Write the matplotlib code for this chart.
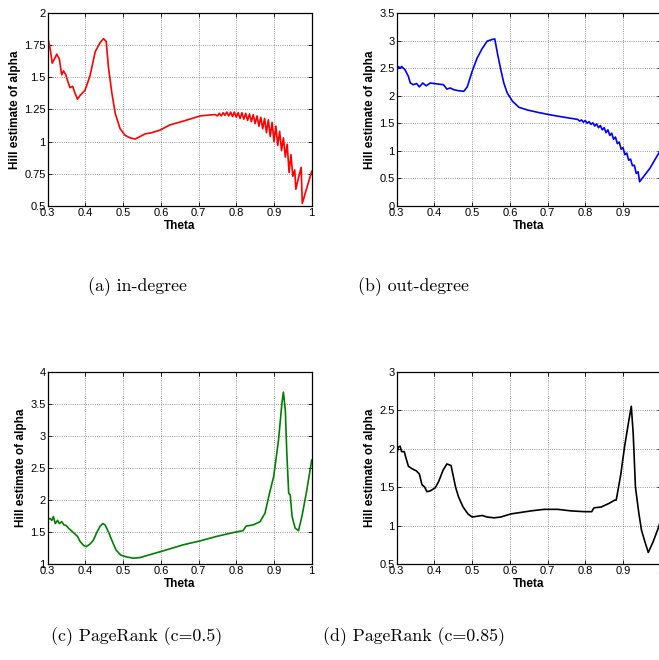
import matplotlib
matplotlib.use('Agg')
import matplotlib.pyplot as plt

# Hill estimate vs Theta
theta_in = [0.300, 0.306, 0.312, 0.319, 0.324, 0.331, 0.337, 0.342, 0.348, 0.353,
            0.359, 0.366, 0.372, 0.379, 0.386, 0.399, 0.412, 0.426, 0.439, 0.448,
            0.455, 0.461, 0.470, 0.479, 0.492, 0.505, 0.518, 0.532, 0.545, 0.558,
            0.576, 0.598, 0.624, 0.660, 0.704, 0.740,
            0.745, 0.750, 0.755, 0.760, 0.765, 0.770, 0.775, 0.780, 0.785, 0.790,
            0.795, 0.800, 0.805, 0.810, 0.815, 0.820, 0.825, 0.830, 0.835, 0.840,
            0.845, 0.850, 0.855, 0.860, 0.865, 0.870, 0.875, 0.880, 0.885, 0.890,
            0.895, 0.900, 0.905, 0.910, 0.915, 0.920, 0.925, 0.930, 0.935, 0.940,
            0.945, 0.950, 0.955, 0.958, 0.965, 0.972, 0.975, 1.000]
alpha_in = [1.81, 1.73, 1.61, 1.65, 1.68, 1.64, 1.52, 1.55, 1.52, 1.47,
            1.42, 1.43, 1.38, 1.33, 1.36, 1.40, 1.51, 1.70, 1.77, 1.80,
            1.78, 1.58, 1.38, 1.22, 1.10, 1.05, 1.03, 1.02, 1.04, 1.06,
            1.07, 1.09, 1.13, 1.16, 1.20, 1.21,
            1.21, 1.20, 1.22, 1.20, 1.225, 1.205, 1.23, 1.20, 1.23, 1.195,
            1.23, 1.19, 1.225, 1.18, 1.225, 1.175, 1.22, 1.165, 1.215, 1.155,
            1.21, 1.14, 1.20, 1.12, 1.19, 1.10, 1.18, 1.07, 1.17, 1.04,
            1.15, 1.00, 1.12, 0.97, 1.08, 0.93, 1.03, 0.88, 0.98, 0.76,
            0.90, 0.73, 0.78, 0.63, 0.72, 0.80, 0.52, 0.77]

theta_out = [0.300, 0.304, 0.309, 0.313, 0.322, 0.331, 0.336, 0.344, 0.353, 0.360,
             0.369, 0.378, 0.389, 0.400, 0.411, 0.424, 0.433, 0.442, 0.451, 0.464,
             0.478, 0.487, 0.500, 0.513, 0.527, 0.540, 0.553, 0.560, 0.567, 0.576,
             0.584, 0.593, 0.607, 0.624, 0.647, 0.673, 0.709, 0.744,
             0.780, 0.785, 0.790, 0.795, 0.800, 0.805, 0.810, 0.815, 0.820, 0.825,
             0.830, 0.835, 0.840, 0.845, 0.850, 0.855, 0.860, 0.865, 0.870, 0.875,
             0.880, 0.885, 0.890, 0.895, 0.900, 0.905, 0.910, 0.915, 0.920, 0.925,
             0.930, 0.935, 0.940, 0.944, 0.971, 1.000]
alpha_out = [2.44, 2.53, 2.50, 2.53, 2.47, 2.35, 2.23, 2.20, 2.22, 2.16,
             2.23, 2.18, 2.23, 2.22, 2.21, 2.20, 2.12, 2.14, 2.11, 2.09,
             2.08, 2.16, 2.44, 2.68, 2.86, 2.99, 3.02, 3.03, 2.77, 2.47,
             2.23, 2.05, 1.90, 1.79, 1.74, 1.70, 1.65, 1.61,
             1.57, 1.54, 1.56, 1.52, 1.55, 1.50, 1.53, 1.48, 1.51, 1.45,
             1.49, 1.42, 1.46, 1.38, 1.42, 1.33, 1.38, 1.28, 1.32, 1.21,
             1.25, 1.13, 1.16, 1.03, 1.06, 0.93, 0.96, 0.83, 0.85, 0.73,
             0.74, 0.59, 0.62, 0.44, 0.68, 1.02]

theta_pr5 = [0.300, 0.306, 0.311, 0.315, 0.320, 0.326, 0.331, 0.337, 0.343, 0.349,
             0.355, 0.364, 0.372, 0.379, 0.386, 0.395, 0.402, 0.412, 0.421, 0.430,
             0.439, 0.446, 0.452, 0.461, 0.470, 0.481, 0.493, 0.509, 0.527, 0.545,
             0.580, 0.615, 0.660, 0.704, 0.748, 0.792, 0.818, 0.826, 0.845, 0.863,
             0.876, 0.888, 0.899, 0.912, 0.921, 0.925, 0.930, 0.934, 0.939, 0.943,
             0.948, 0.956, 0.965, 0.974, 0.987, 1.000]
alpha_pr5 = [1.69, 1.71, 1.68, 1.74, 1.63, 1.68, 1.63, 1.66, 1.61, 1.60,
             1.56, 1.51, 1.47, 1.43, 1.35, 1.29, 1.27, 1.31, 1.37, 1.49,
             1.59, 1.63, 1.61, 1.50, 1.37, 1.22, 1.14, 1.11, 1.09, 1.10,
             1.16, 1.22, 1.30, 1.36, 1.43, 1.49, 1.52, 1.59, 1.61, 1.66,
             1.79, 2.10, 2.36, 2.93, 3.51, 3.68, 3.40, 2.73, 2.10, 2.08,
             1.74, 1.56, 1.52, 1.74, 2.15, 2.62]

theta_pr85 = [0.300, 0.304, 0.309, 0.313, 0.320, 0.325, 0.331, 0.340, 0.352, 0.360,
              0.367, 0.374, 0.380, 0.389, 0.402, 0.411, 0.423, 0.433, 0.444, 0.456,
              0.464, 0.476, 0.489, 0.500, 0.513, 0.527, 0.540, 0.558, 0.576, 0.602,
              0.629, 0.656, 0.691, 0.727, 0.762, 0.798, 0.817, 0.823, 0.842, 0.864,
              0.878, 0.882, 0.894, 0.904, 0.915, 0.922, 0.927, 0.933, 0.942, 0.949,
              0.958, 0.967, 0.980, 0.993, 1.000]
alpha_pr85 = [1.92, 2.02, 2.03, 1.96, 1.96, 1.87, 1.77, 1.74, 1.71, 1.67,
              1.53, 1.50, 1.44, 1.45, 1.49, 1.57, 1.72, 1.80, 1.78, 1.50,
              1.37, 1.24, 1.15, 1.11, 1.12, 1.13, 1.11, 1.10, 1.11, 1.15,
              1.17, 1.19, 1.21, 1.21, 1.19, 1.18, 1.18, 1.23, 1.24, 1.29,
              1.33, 1.33, 1.66, 2.02, 2.35, 2.55, 2.20, 1.50, 1.16, 0.94,
              0.79, 0.65, 0.79, 0.96, 1.07]

x_ticks = [0.3, 0.4, 0.5, 0.6, 0.7, 0.8, 0.9, 1.0]
x_labels = ['0.3', '0.4', '0.5', '0.6', '0.7', '0.8', '0.9', '1']

panels = [
    (theta_in, alpha_in, '#ff0000', (0.5, 2.0),
     [0.5, 0.75, 1.0, 1.25, 1.5, 1.75, 2.0], ['0.5', '0.75', '1', '1.25', '1.5', '1.75', '2'],
     '(a) in-degree'),
    (theta_out, alpha_out, '#0000ff', (0.0, 3.5),
     [0, 0.5, 1, 1.5, 2, 2.5, 3, 3.5], ['0', '0.5', '1', '1.5', '2', '2.5', '3', '3.5'],
     '(b) out-degree'),
    (theta_pr5, alpha_pr5, '#008000', (1.0, 4.0),
     [1, 1.5, 2, 2.5, 3, 3.5, 4], ['1', '1.5', '2', '2.5', '3', '3.5', '4'],
     '(c) PageRank (c=0.5)'),
    (theta_pr85, alpha_pr85, '#000000', (0.5, 3.0),
     [0.5, 1, 1.5, 2, 2.5, 3], ['0.5', '1', '1.5', '2', '2.5', '3'],
     '(d) PageRank (c=0.85)'),
]

positions = [
    [0.0724, 0.6879, 0.4006, 0.2924],
    [0.6020, 0.6879, 0.4006, 0.2924],
    [0.0724, 0.1455, 0.4006, 0.2914],
    [0.6020, 0.1455, 0.4006, 0.2914],
]
caption_xy = [(0.208, 0.565), (0.628, 0.565), (0.208, 0.035), (0.628, 0.035)]

fig = plt.figure(figsize=(6.59, 6.60), dpi=100)

for (x, y, col, ylim, yt, ytl, cap), pos, cxy in zip(panels, positions, caption_xy):
    ax = fig.add_axes(pos)
    ax.plot(x, y, color=col, lw=1.2)
    ax.set_xlim(0.3, 1.0)
    ax.set_ylim(*ylim)
    ax.set_xticks(x_ticks)
    ax.set_xticklabels(x_labels, fontsize=8, family='Liberation Sans')
    ax.set_yticks(yt)
    ax.set_yticklabels(ytl, fontsize=8, family='Liberation Sans')
    ax.tick_params(direction='in', length=3, width=0.6, top=True, right=True, pad=1.5)
    ax.grid(True, linestyle=':', color='#777777', linewidth=0.6)
    for sp in ax.spines.values():
        sp.set_linewidth(0.9)
    ax.set_xlabel('Theta', fontsize=8.5, fontweight='bold', family='Liberation Sans', labelpad=1.5)
    ax.set_ylabel('Hill estimate of alpha', fontsize=8.5, fontweight='bold',
                  family='Liberation Sans', labelpad=2)
    fig.text(cxy[0], cxy[1], cap, ha='center', va='center', fontsize=12.8, family='cmr10')

fig.savefig('out.png', dpi=100)
